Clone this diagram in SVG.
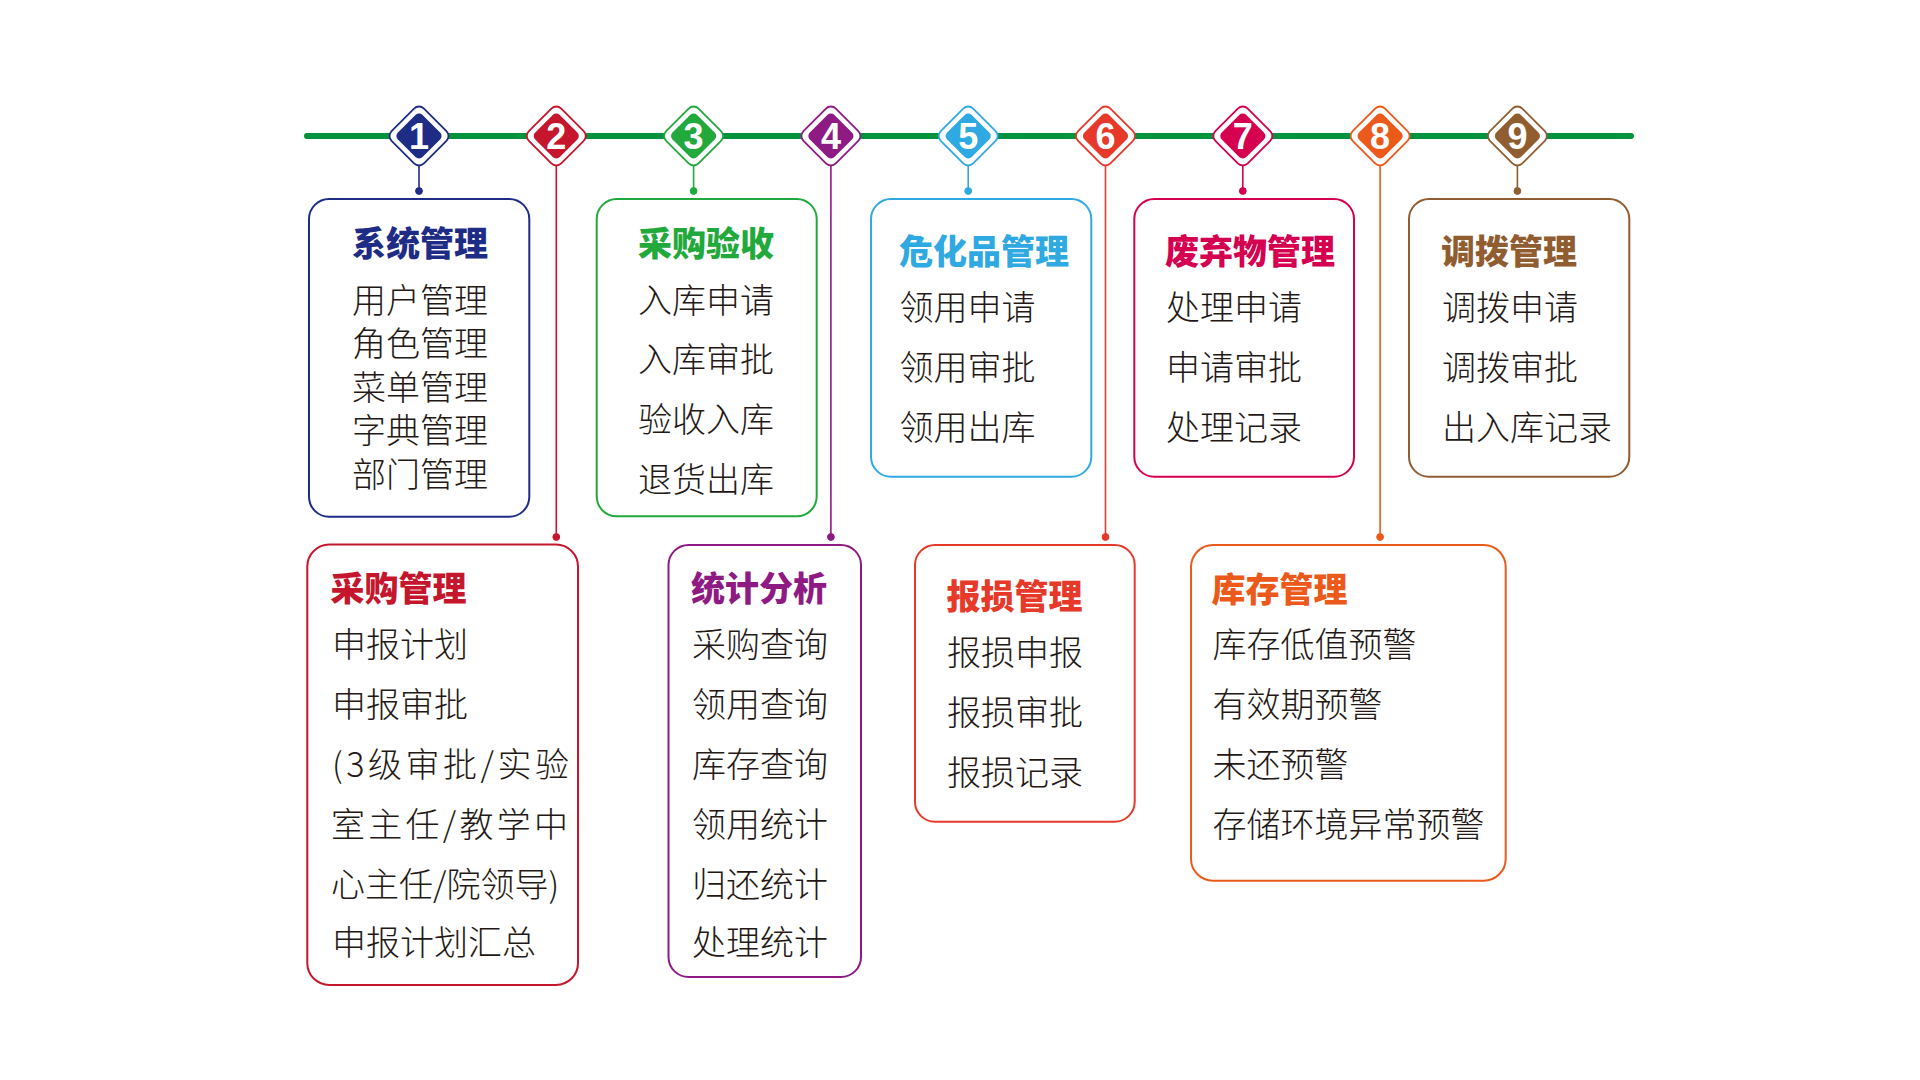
<svg xmlns="http://www.w3.org/2000/svg" width="1920" height="1080" viewBox="0 0 1920 1080">
<style>
.bg{fill:#ffffff}
.box{fill:#ffffff;stroke-width:2}
.tt{font-family:"Noto Sans CJK SC","Noto Sans",sans-serif;font-size:34px;font-weight:900}
.it{font-family:"Noto Sans CJK SC","Noto Sans",sans-serif;font-size:34px;font-weight:300;fill:#231815}
.num{font-family:"Liberation Sans","Noto Sans",sans-serif;font-size:36px;font-weight:bold;fill:#ffffff;text-anchor:middle}
.out{fill:#ffffff;stroke-width:1.8}
.stem{fill:none;stroke-width:1.6}
.c1{stroke:#1e2c86;fill:#1e2c86}
.c2{stroke:#c6162d;fill:#c6162d}
.c3{stroke:#22a93b;fill:#22a93b}
.c4{stroke:#8e1a83;fill:#8e1a83}
.c5{stroke:#2fa9e1;fill:#2fa9e1}
.c6{stroke:#e7392a;fill:#e7392a}
.c7{stroke:#d5004f;fill:#d5004f}
.c8{stroke:#eb5a1a;fill:#eb5a1a}
.c9{stroke:#905d30;fill:#905d30}
</style>
<rect class="bg" x="0" y="0" width="1920" height="1080"/>

<g id="timeline">
<line x1="307" y1="136" x2="1631" y2="136" stroke="#03923e" stroke-width="6" stroke-linecap="round"/>
</g>

<g id="connectors">
<g class="stem">
<line class="c1" x1="419" y1="166" x2="419" y2="191"/>
<line class="c2" x1="556.3" y1="166" x2="556.3" y2="537"/>
<line class="c3" x1="693.6" y1="166" x2="693.6" y2="191"/>
<line class="c4" x1="830.9" y1="166" x2="830.9" y2="537"/>
<line class="c5" x1="968.2" y1="166" x2="968.2" y2="191"/>
<line class="c6" x1="1105.5" y1="166" x2="1105.5" y2="537"/>
<line class="c7" x1="1242.8" y1="166" x2="1242.8" y2="191"/>
<line class="c8" x1="1380.1" y1="166" x2="1380.1" y2="537"/>
<line class="c9" x1="1517.4" y1="166" x2="1517.4" y2="191"/>
</g>
<circle class="c1" cx="419" cy="191" r="3.4"/>
<circle class="c2" cx="556.3" cy="537" r="3.4"/>
<circle class="c3" cx="693.6" cy="191" r="3.4"/>
<circle class="c4" cx="830.9" cy="537" r="3.4"/>
<circle class="c5" cx="968.2" cy="191" r="3.4"/>
<circle class="c6" cx="1105.5" cy="537" r="3.4"/>
<circle class="c7" cx="1242.8" cy="191" r="3.4"/>
<circle class="c8" cx="1380.1" cy="537" r="3.4"/>
<circle class="c9" cx="1517.4" cy="191" r="3.4"/>
</g>

<g id="markers">
<g id="marker-1" transform="translate(419,136)"><rect class="out c1" style="fill:#fff" x="-22.9" y="-22.9" width="45.8" height="45.8" rx="7" transform="rotate(45)"/><rect class="c1" style="stroke:none" x="-17.4" y="-17.4" width="34.8" height="34.8" rx="5" transform="rotate(45)"/><text class="num" x="0" y="13">1</text></g>
<g id="marker-2" transform="translate(556.3,136)"><rect class="out c2" style="fill:#fff" x="-22.9" y="-22.9" width="45.8" height="45.8" rx="7" transform="rotate(45)"/><rect class="c2" style="stroke:none" x="-17.4" y="-17.4" width="34.8" height="34.8" rx="5" transform="rotate(45)"/><text class="num" x="0" y="13">2</text></g>
<g id="marker-3" transform="translate(693.6,136)"><rect class="out c3" style="fill:#fff" x="-22.9" y="-22.9" width="45.8" height="45.8" rx="7" transform="rotate(45)"/><rect class="c3" style="stroke:none" x="-17.4" y="-17.4" width="34.8" height="34.8" rx="5" transform="rotate(45)"/><text class="num" x="0" y="13">3</text></g>
<g id="marker-4" transform="translate(830.9,136)"><rect class="out c4" style="fill:#fff" x="-22.9" y="-22.9" width="45.8" height="45.8" rx="7" transform="rotate(45)"/><rect class="c4" style="stroke:none" x="-17.4" y="-17.4" width="34.8" height="34.8" rx="5" transform="rotate(45)"/><text class="num" x="0" y="13">4</text></g>
<g id="marker-5" transform="translate(968.2,136)"><rect class="out c5" style="fill:#fff" x="-22.9" y="-22.9" width="45.8" height="45.8" rx="7" transform="rotate(45)"/><rect class="c5" style="stroke:none" x="-17.4" y="-17.4" width="34.8" height="34.8" rx="5" transform="rotate(45)"/><text class="num" x="0" y="13">5</text></g>
<g id="marker-6" transform="translate(1105.5,136)"><rect class="out c6" style="fill:#fff" x="-22.9" y="-22.9" width="45.8" height="45.8" rx="7" transform="rotate(45)"/><rect class="c6" style="stroke:none" x="-17.4" y="-17.4" width="34.8" height="34.8" rx="5" transform="rotate(45)"/><text class="num" x="0" y="13">6</text></g>
<g id="marker-7" transform="translate(1242.8,136)"><rect class="out c7" style="fill:#fff" x="-22.9" y="-22.9" width="45.8" height="45.8" rx="7" transform="rotate(45)"/><rect class="c7" style="stroke:none" x="-17.4" y="-17.4" width="34.8" height="34.8" rx="5" transform="rotate(45)"/><text class="num" x="0" y="13">7</text></g>
<g id="marker-8" transform="translate(1380.1,136)"><rect class="out c8" style="fill:#fff" x="-22.9" y="-22.9" width="45.8" height="45.8" rx="7" transform="rotate(45)"/><rect class="c8" style="stroke:none" x="-17.4" y="-17.4" width="34.8" height="34.8" rx="5" transform="rotate(45)"/><text class="num" x="0" y="13">8</text></g>
<g id="marker-9" transform="translate(1517.4,136)"><rect class="out c9" style="fill:#fff" x="-22.9" y="-22.9" width="45.8" height="45.8" rx="7" transform="rotate(45)"/><rect class="c9" style="stroke:none" x="-17.4" y="-17.4" width="34.8" height="34.8" rx="5" transform="rotate(45)"/><text class="num" x="0" y="13">9</text></g>
</g>

<g id="node-1">
<rect class="box" stroke="#1e2c86" x="309" y="199" width="220.3" height="317.7" rx="20"/>
<text class="tt" fill="#1e2c86" x="352" y="256">系统管理</text>
<text class="it" x="352" y="312.5">用户管理</text>
<text class="it" x="352" y="356">角色管理</text>
<text class="it" x="352" y="399.5">菜单管理</text>
<text class="it" x="352" y="443">字典管理</text>
<text class="it" x="352" y="486.5">部门管理</text>
</g>

<g id="node-2">
<rect class="box" stroke="#c6162d" x="307.3" y="544.5" width="270.7" height="440.5" rx="22"/>
<text class="tt" fill="#c6162d" x="330.5" y="600.5">采购管理</text>
<text class="it" x="332" y="657">申报计划</text>
<text class="it" x="332" y="717">申报审批</text>
<text class="it" x="332" y="776.5" textLength="237" lengthAdjust="spacing">(3级审批/实验</text>
<text class="it" x="331" y="836.5" textLength="237" lengthAdjust="spacing">室主任/教学中</text>
<text class="it" x="331" y="896.5">心主任/院领导)</text>
<text class="it" x="332" y="955">申报计划汇总</text>
</g>

<g id="node-3">
<rect class="box" stroke="#22a93b" x="596.7" y="199" width="220" height="317.3" rx="20"/>
<text class="tt" fill="#22a93b" x="638" y="256">采购验收</text>
<text class="it" x="638" y="312.5">入库申请</text>
<text class="it" x="638" y="371.5">入库审批</text>
<text class="it" x="638" y="431.5">验收入库</text>
<text class="it" x="638" y="491.5">退货出库</text>
</g>

<g id="node-4">
<rect class="box" stroke="#8e1a83" x="668.5" y="545" width="192.5" height="432" rx="20"/>
<text class="tt" fill="#8e1a83" x="691" y="600.5">统计分析</text>
<text class="it" x="692" y="657">采购查询</text>
<text class="it" x="692" y="717">领用查询</text>
<text class="it" x="692" y="776.5">库存查询</text>
<text class="it" x="692" y="836.5">领用统计</text>
<text class="it" x="692" y="896.5">归还统计</text>
<text class="it" x="692" y="955">处理统计</text>
</g>

<g id="node-5">
<rect class="box" stroke="#2fa9e1" x="871" y="199" width="220.3" height="277.7" rx="20"/>
<text class="tt" fill="#2fa9e1" x="899" y="264">危化品管理</text>
<text class="it" x="899.5" y="320">领用申请</text>
<text class="it" x="899.5" y="380">领用审批</text>
<text class="it" x="899.5" y="440">领用出库</text>
</g>

<g id="node-6">
<rect class="box" stroke="#e7392a" x="915" y="545" width="219.7" height="276.7" rx="20"/>
<text class="tt" fill="#e7392a" x="946.5" y="609">报损管理</text>
<text class="it" x="947" y="665">报损申报</text>
<text class="it" x="947" y="725">报损审批</text>
<text class="it" x="947" y="785">报损记录</text>
</g>

<g id="node-7">
<rect class="box" stroke="#d5004f" x="1134.3" y="199" width="219.7" height="277.7" rx="20"/>
<text class="tt" fill="#d5004f" x="1165" y="264">废弃物管理</text>
<text class="it" x="1166" y="320">处理申请</text>
<text class="it" x="1166" y="380">申请审批</text>
<text class="it" x="1166" y="440">处理记录</text>
</g>

<g id="node-8">
<rect class="box" stroke="#eb5a1a" x="1191" y="545" width="314.7" height="335.7" rx="22"/>
<text class="tt" fill="#eb5a1a" x="1211.5" y="601.5">库存管理</text>
<text class="it" x="1212.5" y="656.5">库存低值预警</text>
<text class="it" x="1212.5" y="716.5">有效期预警</text>
<text class="it" x="1212.5" y="776.5">未还预警</text>
<text class="it" x="1212.5" y="836.5">存储环境异常预警</text>
</g>

<g id="node-9">
<rect class="box" stroke="#905d30" x="1409" y="199" width="220.3" height="277.7" rx="20"/>
<text class="tt" fill="#905d30" x="1441" y="264">调拨管理</text>
<text class="it" x="1442" y="320">调拨申请</text>
<text class="it" x="1442" y="380">调拨审批</text>
<text class="it" x="1442" y="440">出入库记录</text>
</g>
</svg>
